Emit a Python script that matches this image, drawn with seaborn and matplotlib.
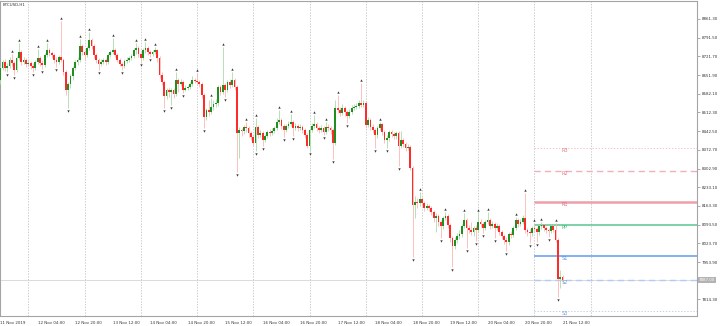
import numpy as np
import matplotlib
matplotlib.use("Agg")
import matplotlib.pyplot as plt
import seaborn as sns

# ---------------- data ----------------
symbol_label = "BTCUSD,H1"
first_open = 8633
closes = [
    8678, 8701, 8678, 8686, 8708, 8697, 8671, 8715, 8738, 8701, 8708, 8693,
    8697, 8686, 8678, 8701, 8715, 8697, 8689, 8727, 8745, 8734, 8727, 8708,
    8701, 8719, 8708, 8663, 8596, 8618, 8648, 8678, 8701, 8708, 8760, 8738,
    8727, 8753, 8783, 8760, 8727, 8708, 8693, 8701, 8708, 8701, 8727, 8738,
    8745, 8727, 8708, 8693, 8686, 8704, 8708, 8715, 8723, 8745, 8753, 8730,
    8715, 8745, 8753, 8738, 8730, 8738, 8745, 8715, 8652, 8626, 8574, 8596,
    8589, 8596, 8581, 8633, 8618, 8626, 8596, 8604, 8607, 8618, 8633, 8630,
    8626, 8618, 8577, 8495, 8521, 8514, 8533, 8544, 8548, 8607, 8589, 8615,
    8596, 8626, 8615, 8633, 8607, 8436, 8447, 8443, 8458, 8454, 8436, 8421,
    8398, 8458, 8428, 8436, 8409, 8424, 8439, 8436, 8443, 8454, 8477, 8484,
    8462, 8447, 8462, 8469, 8477, 8454, 8462, 8454, 8458, 8447, 8428, 8387,
    8447, 8462, 8469, 8454, 8447, 8454, 8439, 8458, 8454, 8447, 8398, 8529,
    8521, 8510, 8529, 8514, 8499, 8514, 8529, 8533, 8536, 8548, 8540, 8548,
    8465, 8484, 8458, 8447, 8428, 8454, 8469, 8439, 8409, 8417, 8439, 8432,
    8424, 8436, 8387, 8409, 8394, 8380, 8383, 8305, 8167, 8178, 8174, 8189,
    8174, 8156, 8163, 8156, 8141, 8118, 8126, 8103, 8088, 8118, 8126, 8092,
    8044, 8014, 8036, 8051, 8058, 8088, 8111, 8081, 8073, 8066, 8081, 8073,
    8103, 8096, 8081, 8103, 8111, 8088, 8096, 8081, 8088, 8066, 8051, 8036,
    8029, 8058, 8055, 8081, 8111, 8096, 8103, 8118, 8073, 8066, 8062, 8081,
    8077, 8066, 8088, 8092, 8081, 8073, 8070, 8088, 8073, 8036, 7890, 7898, 7887,
]
highs = [
    8686, 8708, 8712, 8697, 8719, 8730, 8704, 8723, 8771, 8745, 8719, 8715,
    8708, 8704, 8697, 8708, 8749, 8723, 8708, 8734, 8771, 8753, 8742, 8734,
    8719, 8727, 8854, 8715, 8671, 8626, 8656, 8686, 8708, 8719, 8786, 8768,
    8745, 8760, 8813, 8790, 8768, 8734, 8715, 8712, 8715, 8715, 8734, 8745,
    8790, 8753, 8734, 8715, 8701, 8712, 8719, 8723, 8730, 8753, 8771, 8760,
    8738, 8753, 8775, 8760, 8745, 8745, 8757, 8749, 8723, 8663, 8633, 8604,
    8607, 8604, 8604, 8663, 8641, 8637, 8633, 8615, 8615, 8626, 8648, 8641,
    8660, 8633, 8626, 8585, 8529, 8559, 8566, 8559, 8562, 8615, 8615, 8757,
    8622, 8633, 8637, 8663, 8641, 8615, 8458, 8454, 8465, 8477, 8462, 8443,
    8428, 8492, 8465, 8447, 8443, 8432, 8447, 8450, 8454, 8462, 8492, 8521,
    8492, 8469, 8469, 8480, 8506, 8484, 8473, 8469, 8469, 8465, 8454, 8436,
    8454, 8473, 8503, 8477, 8462, 8465, 8462, 8477, 8469, 8462, 8454, 8559,
    8577, 8533, 8544, 8536, 8521, 8525, 8540, 8544, 8548, 8559, 8622, 8559,
    8555, 8495, 8492, 8469, 8454, 8462, 8477, 8473, 8447, 8428, 8447, 8447,
    8439, 8443, 8443, 8443, 8417, 8402, 8394, 8391, 8312, 8200, 8193, 8215,
    8197, 8182, 8174, 8170, 8163, 8148, 8137, 8133, 8111, 8126, 8141, 8133,
    8100, 8051, 8047, 8062, 8073, 8096, 8137, 8118, 8092, 8103, 8088, 8092,
    8137, 8114, 8103, 8111, 8141, 8118, 8107, 8103, 8100, 8096, 8073, 8058,
    8047, 8066, 8070, 8088, 8122, 8118, 8114, 8129, 8212, 8081, 8077, 8088,
    8100, 8085, 8096, 8103, 8096, 8088, 8081, 8096, 8096, 8100, 8044, 7924, 7905,
]
lows = [
    8618, 8671, 8667, 8663, 8678, 8686, 8652, 8663, 8708, 8689, 8693, 8682,
    8686, 8674, 8663, 8671, 8693, 8686, 8674, 8682, 8719, 8723, 8715, 8697,
    8682, 8693, 8701, 8652, 8577, 8529, 8604, 8633, 8671, 8689, 8701, 8727,
    8708, 8719, 8745, 8749, 8715, 8697, 8671, 8686, 8693, 8689, 8693, 8719,
    8730, 8719, 8701, 8686, 8671, 8678, 8697, 8701, 8708, 8715, 8730, 8719,
    8701, 8708, 8734, 8727, 8719, 8723, 8730, 8701, 8641, 8615, 8529, 8562,
    8570, 8540, 8566, 8574, 8589, 8611, 8585, 8592, 8596, 8600, 8611, 8622,
    8618, 8607, 8566, 8454, 8484, 8499, 8506, 8521, 8533, 8536, 8577, 8581,
    8570, 8589, 8604, 8607, 8596, 8290, 8342, 8424, 8432, 8439, 8421, 8409,
    8387, 8368, 8417, 8421, 8387, 8402, 8417, 8424, 8428, 8436, 8447, 8469,
    8450, 8421, 8439, 8454, 8462, 8424, 8447, 8443, 8447, 8436, 8417, 8380,
    8368, 8439, 8454, 8443, 8436, 8439, 8428, 8432, 8443, 8432, 8339, 8391,
    8510, 8499, 8503, 8499, 8473, 8492, 8506, 8521, 8525, 8529, 8533, 8533,
    8454, 8458, 8447, 8436, 8380, 8417, 8447, 8428, 8398, 8380, 8406, 8421,
    8413, 8413, 8312, 8380, 8383, 8368, 8372, 8297, 7973, 8118, 8156, 8163,
    8163, 8144, 8148, 8144, 8129, 8103, 8066, 8088, 8044, 8077, 8111, 8081,
    8029, 7935, 8002, 8025, 8040, 8047, 8081, 8006, 8062, 8055, 8051, 8032,
    8066, 8085, 8062, 8073, 8096, 8077, 8081, 8044, 8073, 8055, 8040, 8021,
    7995, 8017, 8044, 8047, 8073, 8085, 8088, 8096, 8062, 8051, 8025, 8051,
    8066, 8029, 8055, 8077, 8070, 8062, 8047, 8062, 8066, 8029, 7823, 7857, 7876,
]
x_tick_hours = list(range(0, 241, 16))
x_tick_labels = ["11 Nov 2019", "12 Nov 04:00", "12 Nov 20:00", "13 Nov 12:00",
                 "14 Nov 04:00", "14 Nov 20:00", "15 Nov 12:00", "16 Nov 04:00",
                 "16 Nov 20:00", "17 Nov 12:00", "18 Nov 04:00", "18 Nov 20:00",
                 "19 Nov 12:00", "20 Nov 04:00", "20 Nov 20:00", "21 Nov 12:00"]
day_start_hours = [12, 36, 60, 84, 108, 132, 156, 180, 204, 228, 252]
y_ticks = [8861.30, 8791.50, 8721.70, 8651.90, 8582.10, 8512.30, 8442.50, 8372.70,
           8302.90, 8233.10, 8163.30, 8093.50, 8023.70, 7953.90, 7814.30]
pivot_names = ["R3", "R2", "R1", "PP", "S1", "S2", "S3"]
pivot_levels = [8381, 8294, 8178, 8091, 7975, 7888, 7772]
pivot_start_hour = 228

# ---------------- styling ----------------
sns.set_style("white")
plt.rcParams["font.family"] = ["DejaVu Sans"]
plt.rcParams["lines.scale_dashes"] = False

pivot_line_colors = ["#f6c2c8", "#f2b0b8", "#ee9ea9", "#66c998", "#83b0f2", "#b0cbf4", "#bcd3f6"]
pivot_line_widths = [0.7, 1.0, 1.8, 1.2, 1.4, 1.0, 0.7]
pivot_line_styles = [(0, (1, 1.2)), (0, (4.5, 3)), "solid", "solid", "solid", (0, (4.5, 3)), (0, (1, 1.2))]
pivot_text_colors = ["#e07a84", "#e07a84", "#de6f7a", "#3fb575", "#5f93e6", "#6f9de8", "#6f9de8"]

W, H = 720, 326
fig = plt.figure(figsize=(W / 100, H / 100), dpi=100)
ax = fig.add_axes([0.0, 10 / H, 697 / W, 315 / H])

c = np.array(closes, dtype=float)
o = np.array([first_open] + closes[:-1], dtype=float)
hi = np.maximum(np.array(highs, dtype=float), np.maximum(o, c))
lo = np.minimum(np.array(lows, dtype=float), np.minimum(o, c))
x = np.arange(len(c))
up = c >= o

# day separators
for h in day_start_hours:
    ax.axvline(h, color="#c4c4c4", lw=0.6, ls=(0, (1, 1)), zorder=1)

# bid line
ax.axhline(c[-1], color="#d6d6d6", lw=0.6, zorder=1)

# candles
wick_colors = np.where(up, "#a9dca9", "#ffb4b4")
body_colors = np.where(up, "#1f8f1f", "#ff2b2b")
ax.vlines(x, lo, hi, colors=wick_colors, linewidth=0.6, zorder=3)
heights = np.maximum(np.abs(c - o), 1.5)
bottoms = np.minimum(o, c)
ax.bar(x, heights, bottom=bottoms, width=0.75, color=body_colors, linewidth=0, zorder=4)

# fractals
up_fr, dn_fr = [], []
for i in range(2, len(c) - 2):
    if hi[i] > max(hi[i - 2], hi[i - 1], hi[i + 1], hi[i + 2]):
        up_fr.append(i)
    if lo[i] < min(lo[i - 2], lo[i - 1], lo[i + 1], lo[i + 2]):
        dn_fr.append(i)
up_fr = np.array(up_fr, dtype=int)
dn_fr = np.array(dn_fr, dtype=int)
sns.scatterplot(x=up_fr, y=hi[up_fr] + 11, marker="^", s=3, color="#3a3a3a",
                linewidth=0, ax=ax, zorder=5, legend=False)
sns.scatterplot(x=dn_fr, y=lo[dn_fr] - 11, marker="v", s=3, color="#3a3a3a",
                linewidth=0, ax=ax, zorder=5, legend=False)

# pivots
x_max = -0.08 + 697 / 2.3433
for name, lvl, col, lw, ls, tcol in zip(pivot_names, pivot_levels, pivot_line_colors,
                                        pivot_line_widths, pivot_line_styles, pivot_text_colors):
    ax.hlines(lvl, pivot_start_hour, x_max, colors=col, linewidth=lw, linestyles=ls, zorder=2)
    ax.text(241, lvl - 9, name, color=tcol, fontsize=3.6, ha="center", va="center", zorder=6)

ax.set_xlim(-0.08, x_max)
ax.set_ylim(7752.4, 8928.3)

# axes / ticks
ax.yaxis.tick_right()
ax.set_yticks(y_ticks)
ax.set_yticklabels([f"{v:.2f}" for v in y_ticks])
ax.set_xticks(x_tick_hours)
ax.set_xticklabels(x_tick_labels)
for lab in ax.get_xticklabels():
    lab.set_ha("left")
ax.tick_params(axis="both", labelsize=2.9, length=2.5, width=0.5, pad=1,
               color="#8a8a8a", labelcolor="#333333")
ax.tick_params(axis="y", direction="out")
for sp in ax.spines.values():
    sp.set_color("#a4a4a4")
    sp.set_linewidth(0.8)
ax.set_xlabel("")
ax.set_ylabel("")

# current price tag
ax.text(1.0 + 2 / 697, c[-1], f"{c[-1]:.2f}", transform=ax.get_yaxis_transform(),
        ha="left", va="center", fontsize=2.9, color="white", zorder=7, clip_on=False,
        bbox=dict(boxstyle="square,pad=0.3", fc="#b3b3b3", ec="none"))

# symbol caption
ax.text(3 / 697, 1 - 2 / 315, symbol_label, transform=ax.transAxes, ha="left", va="top",
        fontsize=2.9, color="#333333", zorder=7)

fig.savefig("out.png", dpi=100)
